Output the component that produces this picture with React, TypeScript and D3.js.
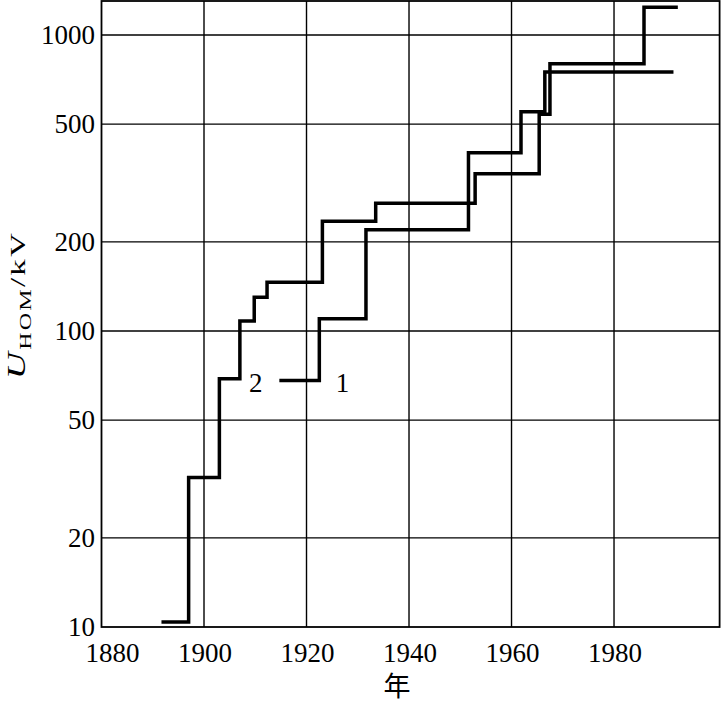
import React from "react";
import * as d3 from "d3";

const xTicks = [1880, 1900, 1920, 1940, 1960, 1980];
const yTicks = [10, 20, 50, 100, 200, 500, 1000];

// Curve 1: years where the level changes (last entry = end of line) and the levels
const curve1Years = [1914.7, 1922.5, 1931.6, 1951.6, 1961.85, 1966.5, 1991.6];
const curve1Values = [68, 110, 220, 400, 550, 750, 750];

// Curve 2
const curve2Years = [1891.7, 1897, 1903, 1907, 1909.8, 1912.3, 1923.1, 1933.5, 1952.9, 1965.4, 1967.5, 1985.85, 1992.45];
const curve2Values = [10.4, 32, 69, 108, 130, 146, 235, 270, 340, 540, 800, 1240, 1240];

const curveLabels = [
  { text: "1", year: 1927, value: 68 },
  { text: "2", year: 1910.1, value: 68 },
];

const serif = "Liberation Serif, Times New Roman, Times, DejaVu Serif, serif";

export default function App() {
  const W = 721, H = 703;
  const left = 101.5, right = 719.6, top = 1, bottom = 627;
  const x = d3.scaleLinear().domain([1880, 2000.6]).range([left, right]);
  const y = d3.scaleLog().domain([10, 1000]).range([bottom, 35]);
  const yTopVal = y.invert(top);

  const line = d3
    .line<[number, number]>()
    .x((d) => x(d[0]))
    .y((d) => y(d[1]))
    .curve(d3.curveStepAfter);

  const c1 = curve1Years.map((yr, i) => [yr, curve1Values[i]] as [number, number]);
  const c2 = curve2Years.map((yr, i) => [yr, curve2Values[i]] as [number, number]);

  const serifStyle = { fontFamily: serif };

  return (
    <svg width={W} height={H} style={{ position: "absolute", left: 0, top: 0, background: "#fff" }}>
      <rect x={0} y={0} width={W} height={H} fill="#fff" />
      {xTicks.slice(1).map((t) => (
        <line key={"vx" + t} x1={x(t)} x2={x(t)} y1={y(yTopVal)} y2={y(10)} stroke="#000" strokeWidth={1.4} />
      ))}
      {yTicks.slice(1).map((t) => (
        <line key={"hy" + t} x1={x(1880)} x2={x(2000.6)} y1={y(t)} y2={y(t)} stroke="#000" strokeWidth={1.4} />
      ))}
      <rect x={x(1880)} y={y(yTopVal)} width={x(2000.6) - x(1880)} height={y(10) - y(yTopVal)} fill="none" stroke="#000" strokeWidth={1.8} />

      <path d={line(c1) || ""} fill="none" stroke="#000" strokeWidth={3.5} strokeLinejoin="miter" />
      <path d={line(c2) || ""} fill="none" stroke="#000" strokeWidth={3.5} strokeLinejoin="miter" />

      {curveLabels.map((l) => (
        <text key={l.text} x={x(l.year)} y={y(l.value) + 11} style={serifStyle} fontSize={27} textAnchor="middle" fill="#000">
          {l.text}
        </text>
      ))}

      {yTicks.map((t) => (
        <text key={"yl" + t} x={95} y={y(t) + 9} style={serifStyle} fontSize={27} textAnchor="end" fill="#000">
          {t}
        </text>
      ))}
      {xTicks.map((t, i) => (
        <text key={"xl" + t} x={x(t) + (i === 0 ? 11 : 1)} y={661.5} style={serifStyle} fontSize={27} textAnchor="middle" fill="#000">
          {t}
        </text>
      ))}
      <text x={397} y={696} style={{ fontFamily: "Noto Sans CJK SC, sans-serif" }} fontSize={27} textAnchor="middle" fill="#000">
        年
      </text>
      <text transform="translate(25, 305) rotate(-90) scale(1.5, 1)" style={serifStyle} fontSize={22} textAnchor="middle" fill="#000" letterSpacing={1.5}>
        <tspan fontStyle="italic" fontSize={25}>U</tspan>
        <tspan fontSize={16} dy={6}>HOM</tspan>
        <tspan dy={-6}>/kV</tspan>
      </text>
    </svg>
  );
}
